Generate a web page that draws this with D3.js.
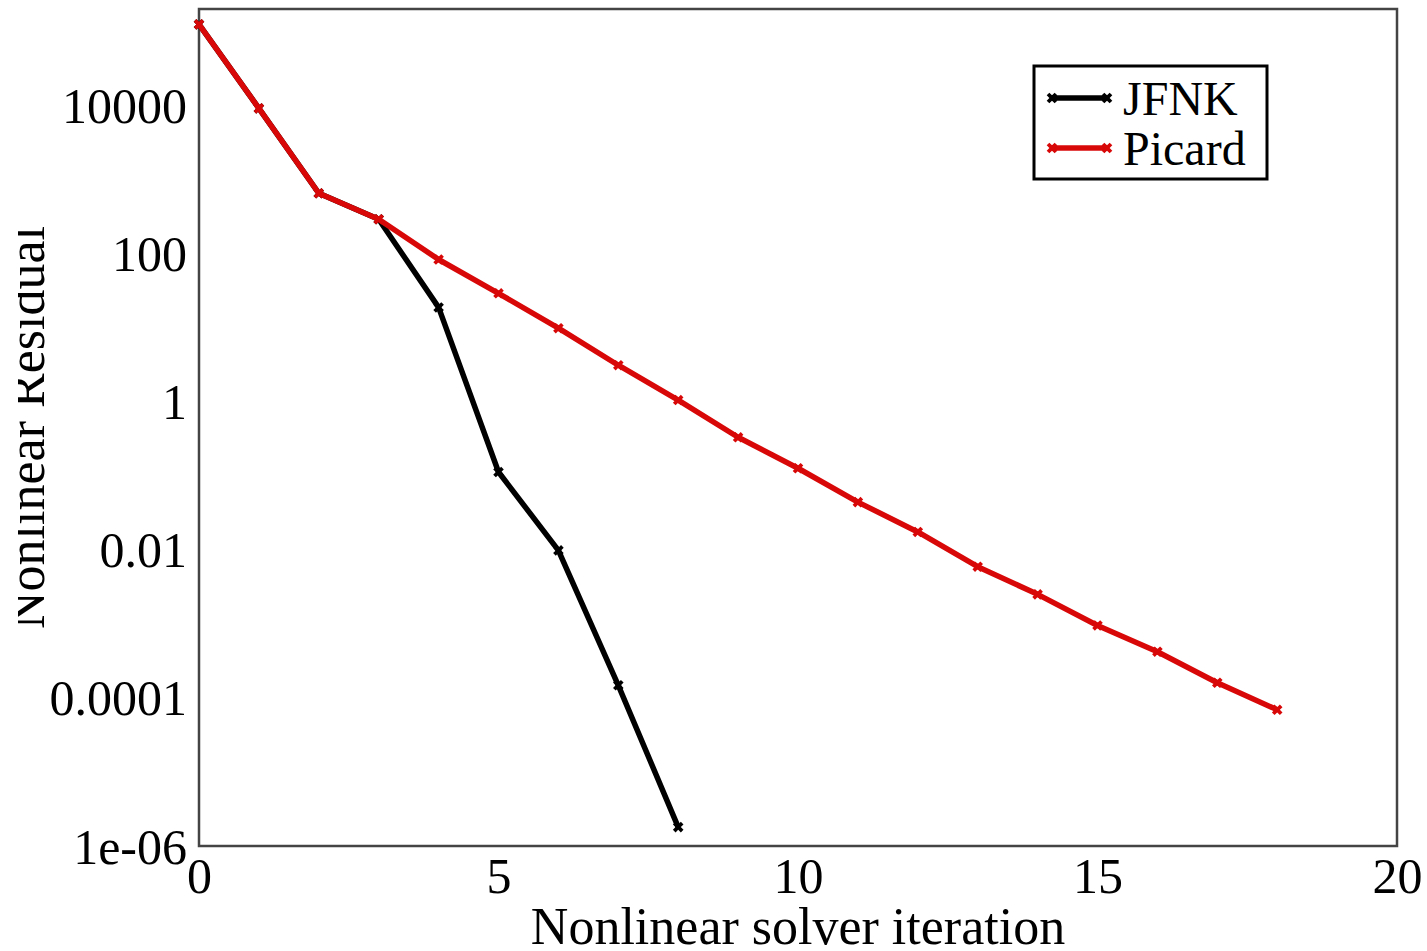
<!DOCTYPE html>
<html>
<head>
<meta charset="utf-8">
<script src="https://cdn.jsdelivr.net/npm/d3@7"></script>
<style>
  html, body { margin: 0; padding: 0; background: #fff; }
  svg { display: block; }
  text { font-family: "Liberation Serif", "Times New Roman", serif; fill: #000; }
</style>
</head>
<body>
<svg id="chart" width="1427" height="951"></svg>
<script>
// ---- data ----
const iterations = [0,1,2,3,4,5,6,7,8,9,10,11,12,13,14,15,16,17,18];
const picardValues = [1.24e5, 9100, 650, 290, 83, 29, 9.8, 3.1, 1.05, 0.33, 0.126, 0.044, 0.0174, 0.0059, 0.0025, 9.5e-4, 4.2e-4, 1.6e-4, 6.9e-5];
const jfnkIterations = [0,1,2,3,4,5,6,7,8];
const jfnkValues = [1.24e5, 9100, 650, 290, 18.7, 0.112, 0.0098, 1.48e-4, 1.8e-6];
const xTicks = [0, 5, 10, 15, 20];
const yTicks = [1e-6, 1e-4, 1e-2, 1, 100, 10000];
const yTickLabels = ["1e-06", "0.0001", "0.01", "1", "100", "10000"];
const seriesNames = ["JFNK", "Picard"];
const seriesColors = ["#000000", "#d80808"];

// ---- layout ----
const plotLeft = 199, plotRight = 1397, plotTop = 9, plotBottom = 846;
const svg = d3.select("#chart");

const x = d3.scaleLinear().domain([0, 20]).range([plotLeft, plotRight]);
const y = d3.scaleLog().domain([1e-6, 2e5]).range([plotBottom, plotTop]);

// frame
svg.append("rect")
  .attr("x", plotLeft).attr("y", plotTop)
  .attr("width", plotRight - plotLeft).attr("height", plotBottom - plotTop)
  .attr("fill", "none").attr("stroke", "#444").attr("stroke-width", 2.5);

// x axis tick labels
const xAxis = d3.axisBottom(x).tickValues(xTicks).tickSize(0).tickPadding(0).tickFormat(d3.format("d"));
const gx = svg.append("g").attr("transform", `translate(0,${plotBottom})`).call(xAxis);
gx.select(".domain").remove();
gx.selectAll("text")
  .attr("y", 47).attr("dy", null)
  .style("font-family", '"Liberation Serif", serif')
  .style("font-size", "50px").attr("fill", "#000");

// y axis tick labels
const yAxis = d3.axisLeft(y).tickValues(yTicks).tickSize(0).tickPadding(0)
  .tickFormat(d => yTickLabels[yTicks.indexOf(d)]);
const gy = svg.append("g").attr("transform", `translate(${plotLeft},0)`).call(yAxis);
gy.select(".domain").remove();
gy.selectAll("text")
  .attr("x", -12).attr("dy", "0.34em")
  .style("font-family", '"Liberation Serif", serif')
  .style("font-size", "50px").attr("fill", "#000");

// axis titles
svg.append("text")
  .attr("x", (plotLeft + plotRight) / 2).attr("y", 944)
  .attr("text-anchor", "middle")
  .style("font-size", "52px")
  .text("Nonlinear solver iteration");

svg.append("defs").append("clipPath").attr("id", "ylabclip")
  .append("rect").attr("x", 18).attr("y", 0).attr("width", 100).attr("height", 951);

svg.append("g").attr("clip-path", "url(#ylabclip)")
  .append("text")
  .attr("transform", `translate(44,${(plotTop + plotBottom) / 2}) rotate(-90)`)
  .attr("text-anchor", "middle")
  .style("font-size", "52px")
  .text("Nonlinear Residual");

// lines
const line = d3.line().x(d => x(d[0])).y(d => y(d[1]));
const series = [
  jfnkIterations.map((it, i) => [it, jfnkValues[i]]),
  iterations.map((it, i) => [it, picardValues[i]])
];
const marker = d3.symbol().type(d3.symbolCross).size(70);

series.forEach((data, si) => {
  const g = svg.append("g");
  g.append("path")
    .datum(data)
    .attr("d", line)
    .attr("fill", "none")
    .attr("stroke", seriesColors[si])
    .attr("stroke-width", 5.5)
    .attr("stroke-linejoin", "round");
  g.selectAll("path.m")
    .data(data)
    .enter().append("path")
    .attr("class", "m")
    .attr("d", marker)
    .attr("transform", d => `translate(${x(d[0])},${y(d[1])}) rotate(45)`)
    .attr("fill", seriesColors[si]);
});

// legend
const lg = svg.append("g");
lg.append("rect")
  .attr("x", 1034).attr("y", 66).attr("width", 233).attr("height", 113)
  .attr("fill", "#fff").attr("stroke", "#000").attr("stroke-width", 3);
const legendY = [98, 148];
seriesNames.forEach((name, i) => {
  lg.append("line")
    .attr("x1", 1052).attr("x2", 1107)
    .attr("y1", legendY[i]).attr("y2", legendY[i])
    .attr("stroke", seriesColors[i]).attr("stroke-width", 5.5);
  [1052, 1107].forEach(px => {
    lg.append("path").attr("d", marker)
      .attr("transform", `translate(${px},${legendY[i]}) rotate(45)`)
      .attr("fill", seriesColors[i]);
  });
  lg.append("text")
    .attr("x", 1123).attr("y", legendY[i] + 17)
    .style("font-size", "48px")
    .text(name);
});
</script>
</body>
</html>
